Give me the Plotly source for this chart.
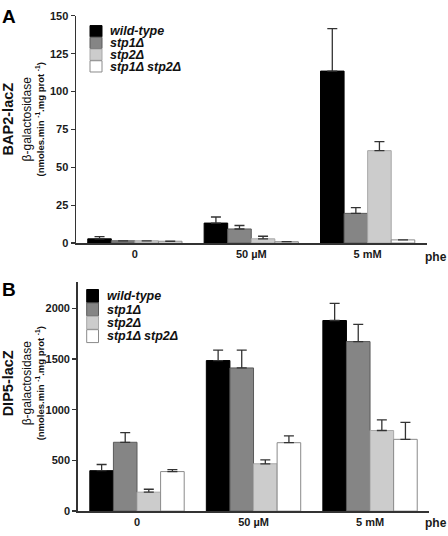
import plotly.graph_objects as go

# ---- data ----
conditions = ["0", "50 µM", "5 mM"]
strains = ["wild-type", "stp1Δ", "stp2Δ", "stp1Δ stp2Δ"]

bap2_values = {
    "wild-type": [2.8, 13.2, 113.5],
    "stp1Δ": [1.5, 9.3, 19.6],
    "stp2Δ": [1.5, 2.8, 61.0],
    "stp1Δ stp2Δ": [1.2, 0.9, 2.1],
}
bap2_errors = {
    "wild-type": [1.5, 4.0, 28.0],
    "stp1Δ": [0.0, 2.3, 3.8],
    "stp2Δ": [0.0, 1.7, 6.0],
    "stp1Δ stp2Δ": [0.0, 0.0, 0.0],
}
dip5_values = {
    "wild-type": [399, 1485, 1880],
    "stp1Δ": [679, 1412, 1672],
    "stp2Δ": [187, 467, 795],
    "stp1Δ stp2Δ": [390, 675, 708],
}
dip5_errors = {
    "wild-type": [61, 103, 168],
    "stp1Δ": [96, 176, 170],
    "stp2Δ": [29, 38, 105],
    "stp1Δ stp2Δ": [19, 68, 167],
}

fill_colors = ["#000000", "#858585", "#cccccc", "#ffffff"]
line_colors = ["#000000", "#5a5a5a", "#a8a8a8", "#8a8a8a"]

W, H = 448, 536
def px(x):
    return x / W
def py(y):
    return 1 - y / H

fig = go.Figure()
xpos = list(range(len(conditions)))

for panel, (vals, errs, xa, ya) in enumerate([
    (bap2_values, bap2_errors, "x", "y"),
    (dip5_values, dip5_errors, "x2", "y2"),
]):
    for i, s in enumerate(strains):
        e = errs[s]
        fig.add_trace(go.Bar(
            x=xpos, y=vals[s], name=s, xaxis=xa, yaxis=ya,
            marker=dict(color=fill_colors[i], line=dict(color=line_colors[i], width=1)),
            error_y=dict(type="data", array=e, arrayminus=[0] * len(e), symmetric=False,
                         color="#333333", thickness=1.3, width=5),
            showlegend=False, hoverinfo="skip",
        ))

font_b = "Liberation Sans, Arial, sans-serif"
tickfont = dict(family=font_b, size=11, color="#1a1a1a", weight="bold")
common_x = dict(tickvals=xpos, ticktext=conditions, showline=True, linecolor="#333333",
                linewidth=1.5, ticks="", tickfont=tickfont, showgrid=False, zeroline=False,
                fixedrange=True)
common_y = dict(showline=True, linecolor="#333333", linewidth=1.5, ticks="outside",
                ticklen=4, tickwidth=1.3, tickcolor="#333333", tickfont=tickfont,
                showgrid=False, zeroline=False, fixedrange=True)

fig.update_layout(
    width=W, height=H, margin=dict(l=0, r=0, t=0, b=0),
    paper_bgcolor="white", plot_bgcolor="white",
    barmode="group", bargap=0.19, bargroupgap=0,
    xaxis=dict(domain=[px(76), px(427)], range=[-0.506, 2.51], anchor="y", **common_x),
    yaxis=dict(domain=[py(242.5), py(10)], range=[0, 150], tickvals=[0, 25, 50, 75, 100, 125, 150],
               anchor="x", **common_y),
    xaxis2=dict(domain=[px(77.7), px(429)], range=[-0.509, 2.506], anchor="y2", **common_x),
    yaxis2=dict(domain=[py(516.7), py(282.7)], range=[0, 2256], tickvals=[0, 500, 1000, 1500, 2000],
                anchor="x2", **common_y),
)

ann = []
# Panel letters
ann.append(dict(x=px(0), y=py(11), text="<b>A</b>", font=dict(family=font_b, size=19, color="black"),
                xanchor="left", yanchor="middle", showarrow=False, xref="paper", yref="paper"))
ann.append(dict(x=px(0), y=py(290), text="<b>B</b>", font=dict(family=font_b, size=19, color="black"),
                xanchor="left", yanchor="middle", showarrow=False, xref="paper", yref="paper"))
# phe labels
for yy in [257, 529]:
    ann.append(dict(x=px(423), y=py(yy), text="<b>phe</b>", font=dict(family=font_b, size=12, color="#1a1a1a"),
                    xanchor="left", yanchor="middle", showarrow=False, xref="paper", yref="paper"))
# Y titles
for name, yc in [("BAP2-lacZ", 116), ("DIP5-lacZ", 386)]:
    ann.append(dict(x=px(8), y=py(yc), text="<b>" + name + "</b>", textangle=-90,
                    font=dict(family=font_b, size=14.5, color="#111111"),
                    xanchor="center", yanchor="middle", showarrow=False, xref="paper", yref="paper"))
    ann.append(dict(x=px(27), y=py(yc), text="β-galactosidase", textangle=-90,
                    font=dict(family=font_b, size=12, color="#111111"),
                    xanchor="center", yanchor="middle", showarrow=False, xref="paper", yref="paper"))
    ann.append(dict(x=px(40), y=py(yc), text="<b>(nmoles.min <sup>-1</sup>.mg prot <sup>-1</sup>)</b>",
                    textangle=-90, font=dict(family=font_b, size=9.5, color="#111111"),
                    xanchor="center", yanchor="middle", showarrow=False, xref="paper", yref="paper"))

# Legends (drawn manually)
shapes = []
for (x0, x1, top, step, tx) in [(90, 102, 20, 12, 108), (86.7, 98.5, 290, 13.7, 105)]:
    for i, s in enumerate(strains):
        y0 = top + i * step
        shapes.append(dict(type="rect", xref="paper", yref="paper",
                           x0=px(x0), x1=px(x1), y0=py(y0), y1=py(y0 + step - 0.5),
                           fillcolor=fill_colors[i], line=dict(color=line_colors[i], width=1)))
        ann.append(dict(x=px(tx), y=py(y0 + step / 2), text="<b><i>" + s + "</i></b>",
                        font=dict(family=font_b, size=12.5, color="#111111"),
                        xanchor="left", yanchor="middle", showarrow=False, xref="paper", yref="paper"))

fig.update_layout(annotations=ann, shapes=shapes)
fig.write_html("out.html", config={"displayModeBar": False, "staticPlot": True},
               post_script="document.body.style.margin='0';document.body.style.overflow='hidden';")
